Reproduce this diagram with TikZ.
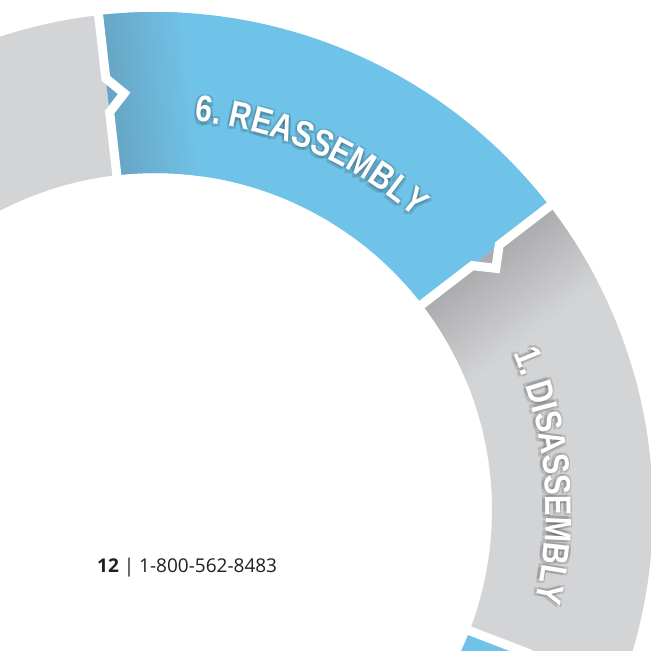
\documentclass[tikz,border=0pt]{standalone}
\usepackage{fontspec}
\newfontfamily\ringfont[FakeStretch=0.82]{Liberation Sans}
\newfontfamily\phonefont{Open Sans}
\usetikzlibrary{calc,decorations.text}

\definecolor{ringblue}{HTML}{70C3E8}
\definecolor{ringbluedark}{HTML}{67A5C4}
\definecolor{ringgray}{HTML}{D3D4D6}
\definecolor{ringgraydark}{HTML}{ABABAD}
\definecolor{phonegray}{HTML}{231F20}

\tikzset{
  gapline/.style={draw=white, line width=9pt, line join=miter, miter limit=10},
}

% annular sector between two angles
\newcommand{\ringseg}[2]{(#1:337) arc[start angle=#1, end angle=#2, radius=337] -- (#2:498) arc[start angle=#2, end angle=#1, radius=498] -- cycle}
% curved label: colour, centre angle, text, shift
\newcommand{\ringlabel}[4]{\path[decorate, decoration={text along path, text align=center,
  text={|\ringfont\bfseries\fontsize{37}{37}\selectfont\color{#1}|#3}}, shift={#4}]
  ({#2+25}:391) arc[start angle={#2+25}, end angle={#2-25}, radius=391];}
% shadow band along the leading edge: dark colour, base colour, edge angle, width
\newcommand{\edgeshade}[4]{\foreach \i in {0,...,24}{
  \pgfmathtruncatemacro\p{100-4*\i}
  \fill[rotate=#3-90, #1!\p!#2] ({\i*#4/25},300) rectangle ({(\i+1.2)*#4/25},520);}}

\begin{document}
\begin{tikzpicture}[x=1pt,y=1pt]
\useasboundingbox (-155,-141) rectangle (496,510);
\fill[white] (-155,-141) rectangle (496,510);

% segments
\fill[ringgray] \ringseg{96.5}{180};
\fill[ringblue] \ringseg{37.6}{96.5};
\fill[ringgray] \ringseg{-21}{37.6};
\fill[ringblue] \ringseg{-80}{-21};

\begin{scope}
\clip \ringseg{37.6}{96.5};
\edgeshade{ringbluedark}{ringblue}{96.5}{85}
\end{scope}
\begin{scope}
\clip \ringseg{-21}{37.6};
\edgeshade{ringgraydark}{ringgray}{37.6}{90}
\end{scope}

% gaps with arrow notches
\foreach \t in {96.5,37.6,-21}{
  \coordinate (gapin) at (\t:330);
  \coordinate (gaplo) at (\t:400.5);
  \coordinate (gaptip) at ($(\t:417.5)+({\t-90}:16.5)$);
  \coordinate (gaphi) at (\t:434.5);
  \coordinate (gapout) at (\t:505);
  \draw[gapline] (gapin) -- (gaplo) -- (gaptip) -- (gaphi) -- (gapout);
}

% labels with soft shadow
\begin{scope}[opacity=0.13]
\foreach \a in {45,135,...,315}{
  \ringlabel{black}{66.3}{6. REASSEMBLY}{($(\a:3)+(0,-1)$)}
  \ringlabel{black}{5.05}{1. DISASSEMBLY}{($(\a:3)+(-1,0)$)}
}
\end{scope}
\ringlabel{white}{66.3}{6. REASSEMBLY}{(0,0)}
\ringlabel{white}{5.05}{1. DISASSEMBLY}{(0,0)}

\node[anchor=base west, inner sep=0, text=phonegray,
  font=\phonefont\fontsize{19}{19}\selectfont] (phone) at (-58,-62) {\textbf{12} | 1-800-562-8483};

\end{tikzpicture}
\end{document}
